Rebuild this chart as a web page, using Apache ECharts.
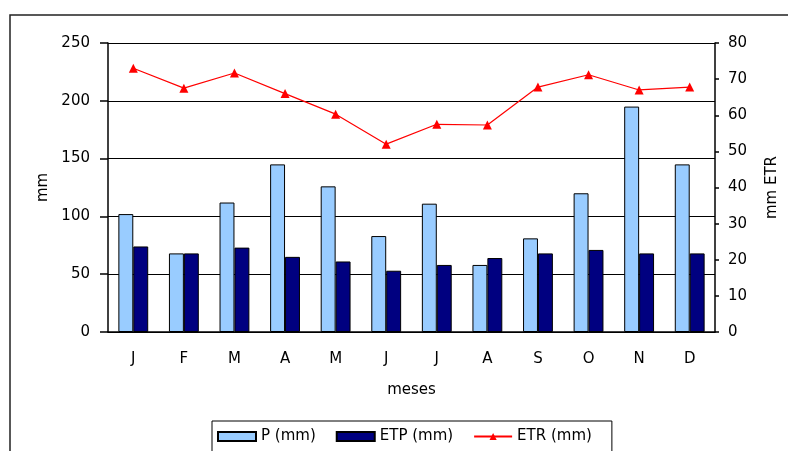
<!DOCTYPE html>
<html>
<head>
<meta charset="utf-8">
<script src="https://cdn.jsdelivr.net/npm/echarts@6/dist/echarts.min.js"></script>
<style>
  html, body { margin: 0; padding: 0; background: #fff; }
  #chart { width: 788px; height: 451px; }
</style>
</head>
<body>
<div id="chart"></div>
<script>
const months = ["J", "F", "M", "A", "M", "J", "J", "A", "S", "O", "N", "D"];
const precip = [102, 68, 112, 145, 126, 83, 111, 58, 81, 120, 195, 145];
const etp = [74, 68, 73, 65, 61, 53, 58, 64, 68, 71, 68, 68];
const etr = [73, 67.5, 71.7, 66, 60.3, 52, 57.5, 57.3, 67.8, 71.2, 67, 67.8];

const font = "DejaVu Sans";
const chart = echarts.init(document.getElementById("chart"));

chart.setOption({
  animation: false,
  backgroundColor: "#fff",
  textStyle: { fontFamily: font, color: "#000" },
  graphic: [
    {
      type: "rect",
      shape: { x: 10, y: 15, width: 800, height: 500 },
      style: { fill: "none", stroke: "#222", lineWidth: 1.5 },
      z: -1,
    },
  ],
  grid: { left: 108, right: 72, top: 43, bottom: 119 },
  legend: {
    left: 212,
    top: 421,
    padding: [8, 20, 20, 5],
    borderColor: "#000",
    borderWidth: 1,
    backgroundColor: "#fff",
    itemWidth: 38,
    itemHeight: 9,
    itemGap: 20,
    textStyle: { fontFamily: font, fontSize: 15, color: "#000" },
    data: [
      { name: "P (mm)", icon: "rect" },
      { name: "ETP (mm)", icon: "rect" },
      { name: "ETR (mm)" },
    ],
  },
  xAxis: [
    {
      type: "category",
      data: months,
      name: "meses",
      nameLocation: "middle",
      nameGap: 51,
      nameTextStyle: { fontFamily: font, fontSize: 15, color: "#000" },
      axisLine: { lineStyle: { color: "#000", width: 1.5 } },
      axisTick: { length: 5, lineStyle: { color: "#000", width: 1.5 } },
      axisLabel: { margin: 20, fontFamily: font, fontSize: 15, color: "#000" },
    },
    {
      type: "category",
      data: months,
      position: "bottom",
      axisLine: { show: false },
      axisTick: { inside: true, length: 4, lineStyle: { color: "#000", width: 1.5 } },
      axisLabel: { show: false },
    },
  ],
  yAxis: [
    {
      type: "value",
      min: 0,
      max: 250,
      interval: 50,
      name: "mm",
      nameLocation: "middle",
      nameGap: 56,
      nameRotate: 90,
      nameTextStyle: { fontFamily: font, fontSize: 15, color: "#000" },
      axisLine: { show: true, lineStyle: { color: "#000", width: 1.5 } },
      axisTick: { show: true, length: 8, lineStyle: { color: "#000", width: 1.5 } },
      axisLabel: { margin: 18, fontFamily: font, fontSize: 15, color: "#000" },
      splitLine: { lineStyle: { color: "#000", width: 1.2 } },
    },
    {
      type: "value",
      min: 0,
      max: 80,
      interval: 10,
      position: "right",
      name: "mm ETR",
      nameLocation: "middle",
      nameGap: 50,
      nameRotate: 90,
      nameTextStyle: { fontFamily: font, fontSize: 15, color: "#000" },
      axisLine: { show: true, lineStyle: { color: "#000", width: 1.5 } },
      axisTick: { show: true, length: 4, lineStyle: { color: "#000", width: 1.5 } },
      axisLabel: { margin: 13, fontFamily: font, fontSize: 15, color: "#000" },
      splitLine: { show: false },
    },
  ],
  series: [
    {
      name: "P (mm)",
      type: "bar",
      data: precip,
      barGap: "0%",
      barCategoryGap: "41%",
      itemStyle: { color: "#99CCFF", borderColor: "#000", borderWidth: 1 },
    },
    {
      name: "ETP (mm)",
      type: "bar",
      data: etp,
      itemStyle: { color: "#000080", borderColor: "#000", borderWidth: 1 },
    },
    {
      name: "ETR (mm)",
      type: "line",
      yAxisIndex: 1,
      data: etr,
      symbol: "triangle",
      symbolSize: 9,
      lineStyle: { color: "#FF0000", width: 1.2 },
      itemStyle: { color: "#FF0000" },
      z: 5,
    },
  ],
});
</script>
</body>
</html>
